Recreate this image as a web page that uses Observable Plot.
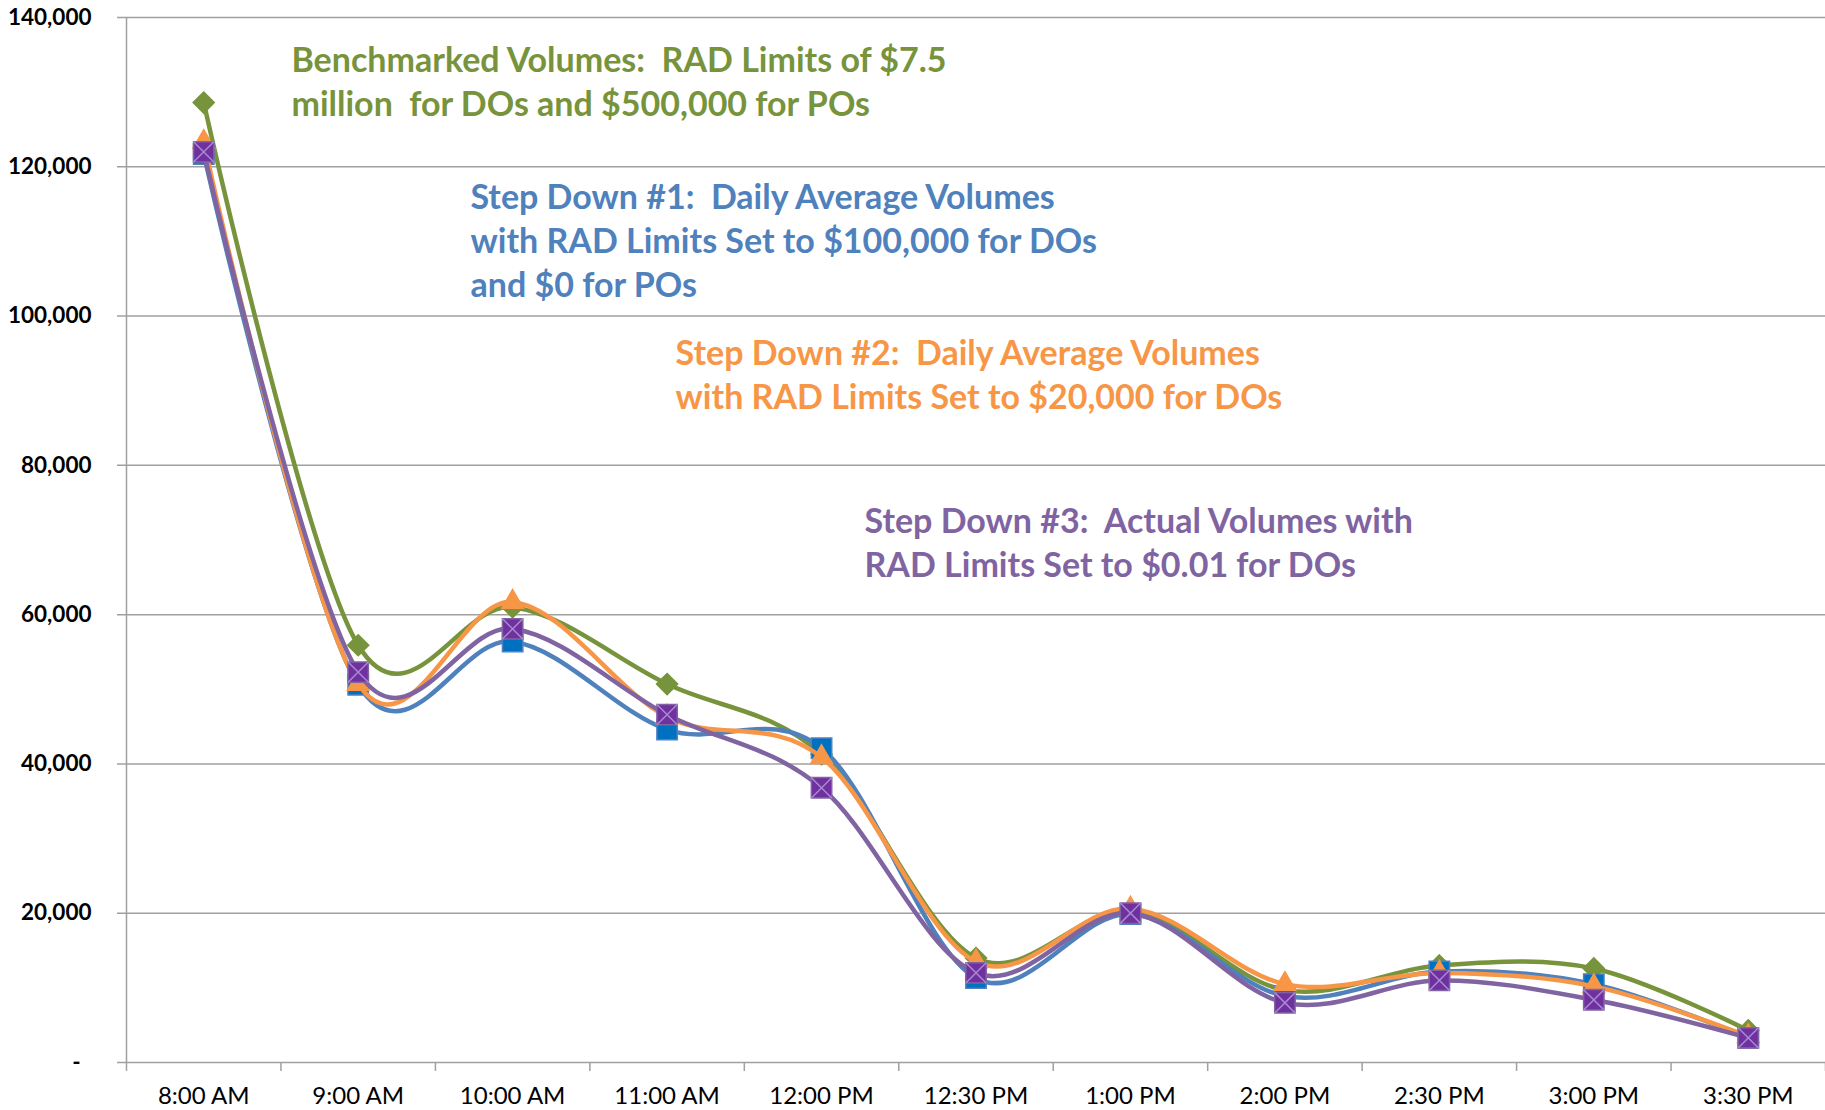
<!DOCTYPE html>
<html><head><meta charset="utf-8">
<script src="https://cdn.jsdelivr.net/npm/d3@7"></script>
<script src="https://cdn.jsdelivr.net/npm/@observablehq/plot@0.6"></script>
<style>
html,body{margin:0;padding:0;background:#fff;}
#chart svg text{white-space:pre;}
</style></head><body><div id="chart"></div>
<script>
// ---- data ----
const categories = ["8:00 AM","9:00 AM","10:00 AM","11:00 AM","12:00 PM","12:30 PM","1:00 PM","2:00 PM","2:30 PM","3:00 PM","3:30 PM"];
const yTicks = [0,20000,40000,60000,80000,100000,120000,140000];
const benchmarked = [128600, 55900, 61000, 50700, 41300, 14000, 20300, 9700, 13000, 12600, 4300];
const stepDown1   = [121700, 50600, 56400, 44600, 42100, 11300, 19900, 8900, 12200, 10500, 3300];
const stepDown2   = [123300, 50700, 61700, 46300, 40900, 13500, 20600, 10500, 12000, 10200, 3500];
const stepDown3   = [122000, 52300, 58100, 46600, 36800, 12000, 20000, 8000, 11000, 8400, 3300];
const seriesNames = ["Benchmarked", "Step Down #1", "Step Down #2", "Step Down #3"];
const seriesValues = [benchmarked, stepDown1, stepDown2, stepDown3];
const annotationText = [
  "Benchmarked Volumes:  RAD Limits of $7.5\nmillion  for DOs and $500,000 for POs",
  "Step Down #1:  Daily Average Volumes\nwith RAD Limits Set to $100,000 for DOs\nand $0 for POs",
  "Step Down #2:  Daily Average Volumes\nwith RAD Limits Set to $20,000 for DOs",
  "Step Down #3:  Actual Volumes with\nRAD Limits Set to $0.01 for DOs"
];
// annotation anchor (x = category index, y = value at block middle)
const annotationX = [0.568, 1.727, 3.055, 4.278];
const annotationY = [131650, 110380, 92440, 69870];

// ---- styles ----
const styles = [
  {line: "#77933C", text: "#77933C", symbol: "diamond2", fill: "#77933C", stroke: "#77933C", r: 9.5},
  {line: "#4F81BD", text: "#4F81BD", symbol: "square",   fill: "#0070C0", stroke: "#4F81BD", r: 11.5},
  {line: "#F79646", text: "#F79646", symbol: "triangle", fill: "#F79646", stroke: "#F79646", r: 8},
  {line: "#8064A2", text: "#8064A2", symbol: "square",   fill: "#7030A0", stroke: "#8064A2", r: 11.5, cross: "#A68BD0"}
];
const FONT = "Lato, 'Open Sans', 'DejaVu Sans', sans-serif";
const annoSize = 34;

const rows = seriesValues.map((vals, s) => vals.map((v, i) => ({series: seriesNames[s], i, value: v})));
const boundaries = d3.range(categories.length + 1).map(i => i - 0.5);

const marks = [
  Plot.gridY({ticks: yTicks, stroke: "#A0A0A0", strokeOpacity: 1, strokeWidth: 1.5, insetLeft: -9}),
  Plot.ruleX([-0.5], {stroke: "#A0A0A0", strokeWidth: 1.5}),
  Plot.axisX({ticks: boundaries, tickSize: 9, tickFormat: () => "", stroke: "#A0A0A0", strokeWidth: 1.5}),
  Plot.axisX({ticks: d3.range(categories.length), tickSize: 0, tickPadding: 24, tickFormat: i => categories[i],
              fontSize: 24, fill: "#000"}),
  Plot.axisY({ticks: yTicks, tickSize: 0, tickPadding: 35,
              tickFormat: d => d === 0 ? "-\u00a0\u00a0" : d3.format(",")(d),
              fontSize: 22.5, fontWeight: "bold", fill: "#000"})
];

rows.forEach((data, s) => {
  const st = styles[s];
  marks.push(Plot.line(data, {x: "i", y: "value", stroke: st.line, strokeWidth: 4.5,
                              curve: "cardinal", tension: 0}));
  marks.push(Plot.dot(data, {x: "i", y: "value", symbol: st.symbol, r: st.r,
                             fill: st.fill, stroke: st.stroke, strokeWidth: 1.5}));
  if (st.cross) {
    marks.push(Plot.dot(data, {x: "i", y: "value", symbol: "times", r: 9.5,
                               stroke: st.cross, strokeWidth: 1.5}));
  }
});

annotationText.forEach((t, k) => {
  marks.push(Plot.text([{x: annotationX[k], y: annotationY[k], text: t}], {
    x: "x", y: "y", text: "text", fill: styles[k].text, textAnchor: "start", lineAnchor: "middle",
    fontSize: annoSize, fontWeight: "bold", lineHeight: 44 / annoSize, fontFamily: FONT
  }));
});

const chart = Plot.plot({
  width: 1825, height: 1110,
  marginLeft: 126, marginRight: 0, marginTop: 17, marginBottom: 48,
  style: {fontFamily: FONT, background: "#fff", overflow: "visible"},
  x: {type: "linear", domain: [-0.5, categories.length - 0.5], axis: null},
  y: {domain: [0, 140000], axis: null},
  marks
});
document.getElementById("chart").appendChild(chart);
</script>
</body></html>
